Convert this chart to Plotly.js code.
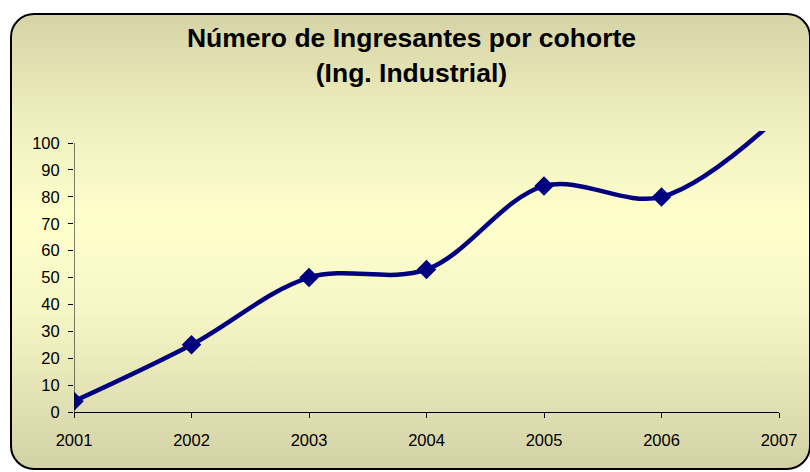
<!DOCTYPE html>
<html>
<head>
<meta charset="utf-8">
<script src="https://cdn.plot.ly/plotly-3.0.1.min.js"></script>
<style>
  html, body { margin: 0; padding: 0; background: #ffffff; width: 810px; height: 472px; overflow: hidden; }
  #frame {
    position: absolute; left: 10px; top: 13px; width: 797px; height: 453px;
    border: 2px solid #000000; border-radius: 24px;
    background: linear-gradient(to bottom, #d6d4a6 0%, #eeedbe 22%, #ffffcc 45%, #f7f6c6 65%, #e2e1b3 85%, #d3d2a7 100%);
  }
  #chart { position: absolute; left: 0; top: 0; width: 810px; height: 472px; }
</style>
</head>
<body>
<div id="frame"></div>
<div id="chart"></div>
<script>
const years = [2001, 2002, 2003, 2004, 2005, 2006, 2007];
const ingresantes = [4, 25, 50, 53, 84, 80, 110];
const yTicks = [0, 10, 20, 30, 40, 50, 60, 70, 80, 90, 100];
const xTicks = ['2001', '2002', '2003', '2004', '2005', '2006', '2007'];

const trace = {
  x: years,
  y: ingresantes,
  type: 'scatter',
  mode: 'lines+markers',
  line: { color: '#000080', width: 4.5, shape: 'spline', smoothing: 1 },
  marker: { symbol: 'diamond', size: 15, color: '#000080' },
  hoverinfo: 'skip'
};

const layout = {
  width: 810,
  height: 472,
  paper_bgcolor: 'rgba(0,0,0,0)',
  plot_bgcolor: 'rgba(0,0,0,0)',
  margin: { l: 74, r: 31, t: 131, b: 60 },
  showlegend: false,
  font: { family: 'Arial, "Liberation Sans", sans-serif', color: '#000000', size: 16.5 },
  title: {
    text: '<b>Número de Ingresantes por cohorte<br>(Ing. Industrial)</b>',
    font: { family: 'Arial, "Liberation Sans", sans-serif', size: 26.5, color: '#000000' },
    x: 0.508, xanchor: 'center', xref: 'container',
    y: 0.90, yanchor: 'top', yref: 'container'
  },
  xaxis: {
    range: [2001, 2007],
    tickvals: years,
    ticktext: xTicks,
    showgrid: false, zeroline: false,
    showline: true, linecolor: '#000000', linewidth: 1,
    ticks: 'outside', ticklen: 5, tickcolor: '#000000', tickwidth: 1,
    tickfont: { size: 16.5 },
    ticklabelstandoff: 8
  },
  yaxis: {
    range: [0, 104.5],
    tickvals: yTicks,
    showgrid: false, zeroline: false,
    showline: false,
    ticks: 'outside', ticklen: 5, tickcolor: '#000000', tickwidth: 1,
    tickfont: { size: 16.5 },
    ticklabelstandoff: 5
  },
  shapes: [{
    type: 'line', xref: 'x', yref: 'y',
    x0: 2001, x1: 2001, y0: 0, y1: 100,
    line: { color: '#000000', width: 1 }
  }]
};

Plotly.newPlot('chart', [trace], layout, { displayModeBar: false, staticPlot: true });
</script>
</body>
</html>
